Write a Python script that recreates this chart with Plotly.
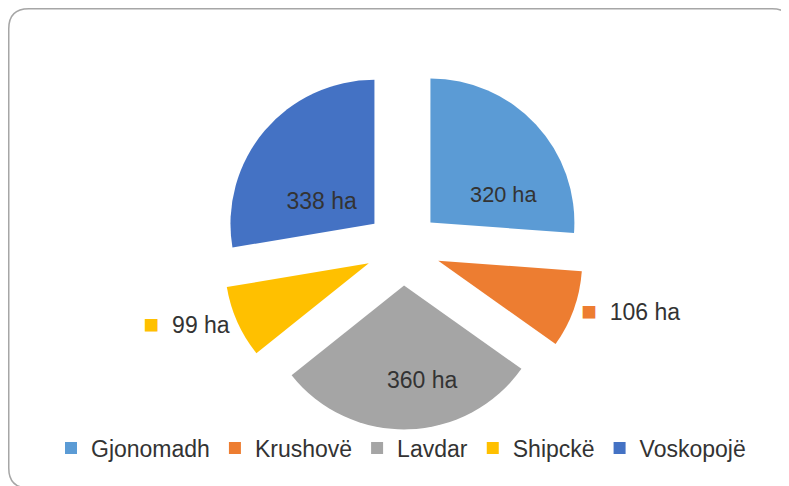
import plotly.graph_objects as go

W, H = 789, 486
OFF = 8  # page offset of the figure inside the browser window

labels = ["Gjonomadh", "Krushovë", "Lavdar", "Shipckë", "Voskopojë"]
values = [320, 106, 360, 99, 338]
colors = ["#5B9BD5", "#ED7D31", "#A5A5A5", "#FFC000", "#4472C4"]
text_positions = ["inside", "outside", "inside", "outside", "inside"]
# label nudges (leading blank lines / spaces) to mimic the reference's label placement
lead_lines = [2, 0, 1, 0, 2]
lead_spaces = [4, 0, 5, 0, 3]

texts = []
for v, c, p, nl, ns in zip(values, colors, text_positions, lead_lines, lead_spaces):
    if p == "outside":
        texts.append(f'<span style="color:{c};font-size:26px">■</span>  {v} ha')
    else:
        texts.append("&nbsp;<br>" * nl + "&nbsp;" * ns + f"{v} ha")

FONT = "Liberation Sans, Arial, sans-serif"
TXT = "#333333"


def px(x):
    return (x - OFF) / W


def py(y):
    return 1 - (y - OFF) / H


# pie box (screen pixels)
cx, cy, half_h, half_w = 403, 248, 181.4, 300

fig = go.Figure(go.Pie(
    labels=labels,
    values=values,
    text=texts,
    textinfo="text",
    texttemplate="%{text}",
    textposition=text_positions,
    insidetextorientation="horizontal",
    sort=False,
    direction="clockwise",
    rotation=0,
    pull=0.26,
    marker=dict(colors=colors, line=dict(width=0)),
    textfont=dict(family=FONT, size=23, color=TXT),
    insidetextfont=dict(family=FONT, size=23, color=TXT),
    outsidetextfont=dict(family=FONT, size=23, color=TXT),
    domain=dict(x=[px(cx - half_w), px(cx + half_w)],
                y=[py(cy + half_h), py(cy - half_h)]),
    hoverinfo="label+value",
))

# rounded chart-area border (extends past right/bottom edges like the reference)
x0, y0, x1, y1, r = 8.75, 8.75, 792, 488, 20
path = (
    f"M {px(x0)},{py(y0 + r)} "
    f"Q {px(x0)},{py(y0)} {px(x0 + r)},{py(y0)} "
    f"L {px(x1 - r)},{py(y0)} "
    f"Q {px(x1)},{py(y0)} {px(x1)},{py(y0 + r)} "
    f"L {px(x1)},{py(y1 - r)} "
    f"Q {px(x1)},{py(y1)} {px(x1 - r)},{py(y1)} "
    f"L {px(x0 + r)},{py(y1)} "
    f"Q {px(x0)},{py(y1)} {px(x0)},{py(y1 - r)} Z"
)

fig.update_layout(
    width=W,
    height=H,
    margin=dict(l=0, r=0, t=0, b=0, autoexpand=False),
    paper_bgcolor="white",
    plot_bgcolor="white",
    showlegend=True,
    legend=dict(
        orientation="h",
        x=px(51),
        xanchor="left",
        y=py(448),
        yanchor="middle",
        font=dict(family=FONT, size=23, color=TXT),
        itemwidth=30,
        tracegroupgap=0,
        bgcolor="rgba(0,0,0,0)",
    ),
    shapes=[dict(
        type="path",
        xref="paper",
        yref="paper",
        path=path,
        line=dict(color="#A6A6A6", width=1.5),
        fillcolor="rgba(0,0,0,0)",
        layer="below",
    )],
)

fig.write_html("out.html")
